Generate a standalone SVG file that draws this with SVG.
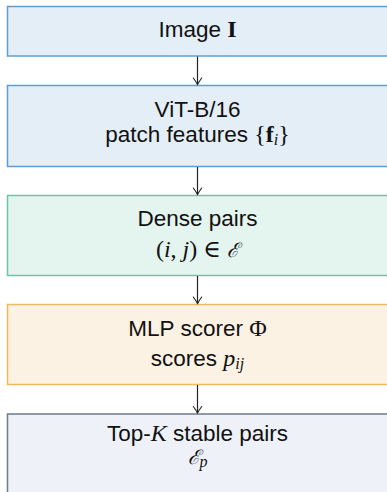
<svg xmlns="http://www.w3.org/2000/svg" width="387" height="492" viewBox="0 0 387 492">
  <defs>
    <marker id="arrowTo" viewBox="-8 -8 10 16" markerWidth="10" markerHeight="16" refX="0" refY="0" orient="auto" markerUnits="userSpaceOnUse">
      <path d="M-6.5,-4.2 Q-2,-1 0,0 Q-2,1 -6.5,4.2" fill="none" stroke="#222" stroke-width="1.1" stroke-linecap="round"/>
    </marker>
    <style>
      .box { stroke-width: 1.5; }
      .blue { fill: #e4eef7; stroke: #5e9fd3; }
      .green { fill: #e4f4ef; stroke: #6dc5a6; }
      .orange { fill: #fcf2e4; stroke: #f0b95f; }
      .slate { fill: #eef2f8; stroke: #6e7a89; }
      .t { font-family: "Liberation Sans", Arial, sans-serif; font-size: 22.5px; fill: #111; text-anchor: middle; }
      .m { font-family: "Liberation Serif", "DejaVu Serif", serif; font-size: 24px; }
      .mi { font-family: "Liberation Serif", "DejaVu Serif", serif; font-style: italic; font-size: 24px; }
      .mb { font-family: "Liberation Serif", "DejaVu Serif", serif; font-weight: bold; font-size: 24px; }
      .sub { font-size: 16px; }
      .scr { font-family: "DejaVu Serif", serif; font-style: italic; font-size: 20px; }
      .conn line { stroke: #222; stroke-width: 1.2; marker-end: url(#arrowTo); }
    </style>
  </defs>

  <g id="image">
    <rect class="box blue" x="7.5" y="6.5" width="386" height="49.5"/>
    <text class="t" x="197.5" y="37">Image <tspan class="mb">I</tspan></text>
  </g>

  <g id="vit">
    <rect class="box blue" x="7.5" y="85.5" width="386" height="81"/>
    <text class="t" x="197.5" y="116.5">ViT-B/16</text>
    <text class="t" x="197.5" y="142">patch features <tspan class="m">{</tspan><tspan class="mb">f</tspan><tspan class="mi sub" dy="3">i</tspan><tspan class="m" dy="-3">}</tspan></text>
  </g>

  <g id="dense-pairs">
    <rect class="box green" x="7.5" y="195.5" width="386" height="80"/>
    <text class="t" x="197.5" y="225.5">Dense pairs</text>
    <text class="t" x="197.5" y="256.5"><tspan class="m">(</tspan><tspan class="mi">i</tspan><tspan class="m">, </tspan><tspan class="mi">j</tspan><tspan class="m">) ∈ </tspan><tspan class="scr">ℰ</tspan></text>
  </g>

  <g id="mlp-scorer">
    <rect class="box orange" x="7.5" y="304.5" width="386" height="80"/>
    <text class="t" x="197.5" y="335.5">MLP scorer <tspan class="m">Φ</tspan></text>
    <text class="t" x="197.5" y="366">scores <tspan class="mi">p</tspan><tspan class="mi sub" dy="3">ij</tspan></text>
  </g>

  <g id="top-k">
    <rect class="box slate" x="7.5" y="414" width="386" height="90"/>
    <text class="t" x="197.5" y="440.5">Top-<tspan class="mi">K</tspan> stable pairs</text>
    <text class="t" x="197.5" y="464"><tspan class="scr">ℰ</tspan><tspan class="mi sub" dy="3">p</tspan></text>
  </g>

  <g class="conn" id="connectors">
    <line x1="197.5" y1="56.5" x2="197.5" y2="84.5"/>
    <line x1="197.5" y1="167" x2="197.5" y2="194.5"/>
    <line x1="197.5" y1="276" x2="197.5" y2="303.5"/>
    <line x1="197.5" y1="385" x2="197.5" y2="413"/>
  </g>
</svg>
